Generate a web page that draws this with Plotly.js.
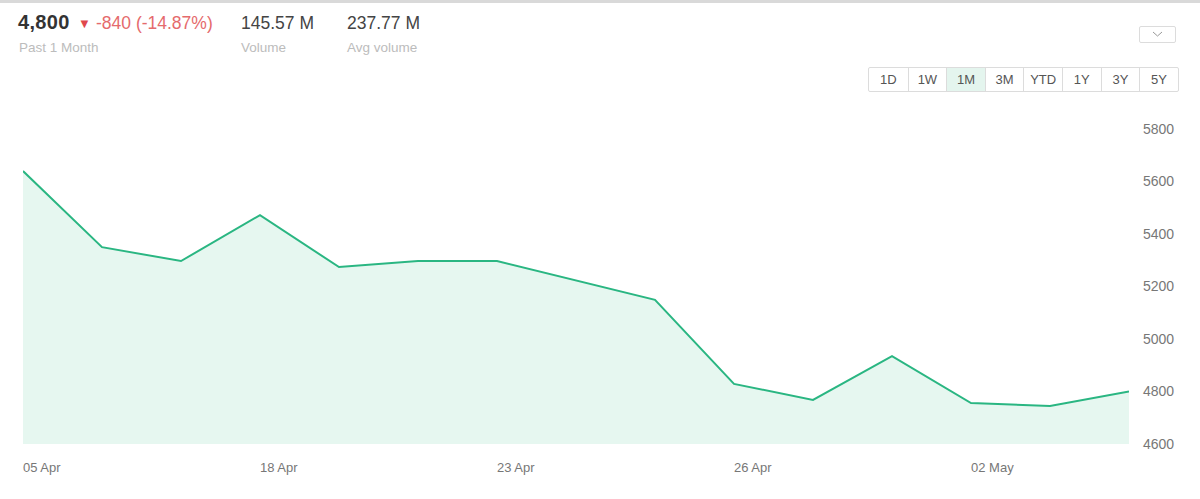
<!DOCTYPE html>
<html>
<head>
<meta charset="utf-8">
<script src="https://cdn.plot.ly/plotly-3.0.1.min.js"></script>
<style>
  html, body { margin: 0; padding: 0; background: #fff; }
  body { width: 1200px; height: 499px; position: relative; overflow: hidden; font-family: "Liberation Sans", Arial, sans-serif; }
  #topline { position: absolute; left: 0; top: 0; width: 1200px; height: 3px; background: #d9d9d9; }
  .big { position: absolute; top: 13px; font-size: 17.5px; color: #444; white-space: nowrap; }
  .small { position: absolute; top: 40px; font-size: 13.5px; color: #bcbcbc; white-space: nowrap; }
  #chart { position: absolute; left: 0; top: 0; width: 1200px; height: 499px; }
  #dd { position: absolute; left: 1139px; top: 26px; width: 37px; height: 17px; border: 1px solid #dcdcdc; border-radius: 2px; box-sizing: border-box; }
  #btns { position: absolute; left: 868px; top: 67px; height: 25px; display: flex; border: 1px solid #dcdcdc; border-radius: 2px; box-sizing: border-box; }
  .b { width: 38.6px; height: 23px; line-height: 23px; text-align: center; font-size: 13px; color: #555; border-left: 1px solid #dcdcdc; box-sizing: border-box; }
  .b:first-child { border-left: none; }
  .b.sel { background: #e4f5ee; }
</style>
</head>
<body>
<div id="chart"></div>
<div id="topline"></div>
<div class="big" style="left:18px;top:11px;font-weight:bold;color:#333;font-size:20px;letter-spacing:0.3px;">4,800</div>
<div class="big" style="left:78px;color:#e0474c;font-size:13px;top:16px;">&#9660;</div>
<div class="big" style="left:96px;color:#e56a6c;">-840 (-14.87%)</div>
<div class="big" style="left:241px;">145.57 M</div>
<div class="big" style="left:347px;">237.77 M</div>
<div class="small" style="left:19px;">Past 1 Month</div>
<div class="small" style="left:241px;">Volume</div>
<div class="small" style="left:347px;">Avg volume</div>
<div id="dd"><svg width="35" height="15" style="position:absolute;left:0;top:0"><polyline points="13,5 17.5,9 22,5" fill="none" stroke="#999" stroke-width="1"/></svg></div>
<div id="btns">
  <div class="b">1D</div><div class="b">1W</div><div class="b sel">1M</div><div class="b">3M</div><div class="b">YTD</div><div class="b">1Y</div><div class="b">3Y</div><div class="b">5Y</div>
</div>
<script>
const pointIndex = [0,1,2,3,4,5,6,7,8,9,10,11,12,13,14];
const prices = [5640,5350,5297,5472,5274,5297,5297,5222,5149,4829,4768,4935,4756,4745,4800];
const tickPositions = [0,3,6,9,12];
const tickLabels = ["05 Apr","18 Apr","23 Apr","26 Apr","02 May"];
const yTicks = [4600,4800,5000,5200,5400,5600,5800];

const trace = {
  x: pointIndex,
  y: prices,
  type: 'scatter',
  mode: 'lines',
  line: { color: '#2ab682', width: 2 },
  fill: 'tozeroy',
  fillcolor: '#e6f7f0',
  hoverinfo: 'skip'
};

const layout = {
  width: 1200, height: 499,
  margin: { l: 23, r: 71, t: 129, b: 55 },
  paper_bgcolor: 'rgba(0,0,0,0)',
  plot_bgcolor: 'rgba(0,0,0,0)',
  showlegend: false,
  font: { family: '"Liberation Sans", Arial, sans-serif', color: '#777', size: 13 },
  xaxis: {
    range: [0, 14],
    tickvals: tickPositions,
    ticktext: tickLabels,
    ticklabelposition: 'outside right',
    ticklabelstandoff: 14,
    showgrid: false, zeroline: false, showline: false,
    ticks: '', ticklen: 0,
    tickfont: { size: 13, color: '#777' },
    fixedrange: true
  },
  yaxis: {
    range: [4600, 5800],
    side: 'right',
    tickvals: yTicks,
    ticktext: yTicks.map(String),
    showgrid: false, zeroline: false, showline: false,
    ticks: '',
    ticklabelstandoff: 13,
    tickfont: { size: 14, color: '#777' },
    fixedrange: true
  }
};

Plotly.newPlot('chart', [trace], layout, { displayModeBar: false, staticPlot: true });
</script>
</body>
</html>
